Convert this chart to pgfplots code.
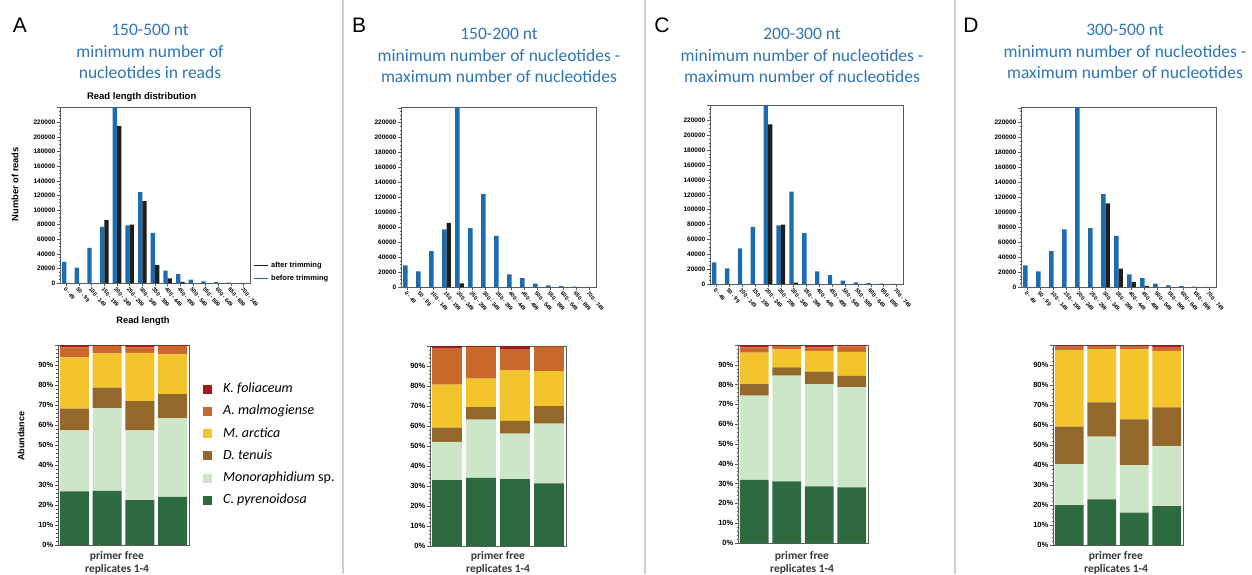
\documentclass[border=0pt]{standalone}
\usepackage{pgfplots}
\usepackage{pgfplotstable}
\pgfplotsset{compat=1.18}
\usepackage{fontspec}
\setmainfont{Liberation Sans}
\newfontfamily\carlito{Carlito}

\definecolor{tblue}{RGB}{46,117,182}
\definecolor{hblue}{RGB}{30,108,176}
\definecolor{hblack}{RGB}{30,30,30}
\definecolor{cC}{RGB}{45,106,63}
\definecolor{cM}{RGB}{205,230,200}
\definecolor{cD}{RGB}{147,104,42}
\definecolor{cMa}{RGB}{244,196,44}
\definecolor{cA}{RGB}{200,104,42}
\definecolor{cK}{RGB}{160,28,28}
\definecolor{sepc}{RGB}{208,208,208}
\definecolor{framec}{RGB}{90,90,90}
\definecolor{txtc}{RGB}{55,55,55}

\pgfplotstableread{
r C M D Ma A K
1 26.8 30.5 10.9 25.6 5.0 1.2
2 27.1 41.4 10.2 17.1 3.7 0.5
3 22.5 34.8 14.6 24.2 2.7 1.2
4 24.1 39.4 11.9 19.9 4.2 0.5
}\stackA
\pgfplotstableread{
r C M D Ma A K
1 32.9 19.2 7.1 21.5 18.0 1.3
2 34.1 29.1 6.3 14.2 15.8 0.5
3 33.4 22.8 6.4 25.3 10.3 1.8
4 31.3 29.9 8.7 17.6 12.2 0.3
}\stackB
\pgfplotstableread{
r C M D Ma A K
1 31.9 42.6 5.8 15.8 2.7 1.2
2 31.1 53.4 4.2 9.1 1.7 0.5
3 28.6 51.7 6.3 10.5 1.7 1.2
4 28.1 50.6 5.7 12.1 2.8 0.7
}\stackC
\pgfplotstableread{
r C M D Ma A K
1 20.0 20.5 18.7 38.3 1.7 0.8
2 22.8 31.4 17.1 26.7 1.5 0.5
3 16.2 23.8 22.8 35.0 1.4 0.8
4 19.5 30.0 19.3 28.3 1.6 1.2
}\stackD

\pgfplotstableread{
x before
0 29000
1 21000
2 48000
3 77000
4 260000
5 79000
6 124500
7 68500
8 17000
9 12000
10 4600
11 2200
12 1200
13 500
14 200
}\histBefore

\pgfplotsset{
  histo/.style={
    scale only axis, anchor=south west, enlargelimits=false,
    ybar, bar width=0.34,
    ymin=0, ymax=241000, xmin=-0.5, xmax=14.5,
    scaled y ticks=false,
    ytick={0,20000,40000,60000,80000,100000,120000,140000,160000,180000,200000,220000,240000},
    yticklabels={0,20000,40000,60000,80000,100000,120000,140000,160000,180000,200000,220000,{}},
    minor y tick num=3,
    yticklabel style={font=\fontsize{6.5}{7}\selectfont\bfseries, inner sep=1.5pt},
    xtick={0,...,14},
    xticklabels={0 - 49,50 - 99,100 - 149,150 - 199,200 - 249,250 - 299,300 - 349,350 - 399,400 - 449,450 - 499,500 - 549,550 - 599,600 - 649,650 - 699,700 - 749},
    xticklabel style={rotate=-50, anchor=north west, font=\fontsize{5.5}{6}\selectfont\bfseries, inner sep=0.5pt},
    tick align=outside, xtick pos=bottom, ytick pos=left,
    major tick length=3pt, minor tick length=1.5pt,
    axis line style={framec, line width=0.8pt},
    every tick/.style={framec, line width=0.5pt},
    legend image code/.code={\draw[##1] (0pt,0pt) -- (14pt,0pt);},
  },
  stk/.style={
    scale only axis, anchor=south west, enlargelimits=false,
    ybar stacked, bar width=0.88,
    xmin=0.5, xmax=4.5, ymin=0, ymax=100,
    scaled y ticks=false,
    xtick=\empty,
    ytick={0,10,...,100},
    yticklabels={0\%,10\%,20\%,30\%,40\%,50\%,60\%,70\%,80\%,90\%,{}},
    minor y tick num=4,
    yticklabel style={font=\fontsize{7.5}{8}\selectfont\bfseries, inner sep=1.5pt},
    tick align=outside, ytick pos=left,
    major tick length=3pt, minor tick length=1.5pt,
    axis line style={framec, line width=0.8pt},
    every tick/.style={framec, line width=0.5pt},
    legend image code/.code={\fill[##1] (0pt,-4.5pt) rectangle (9pt,4.5pt);},
  },
}

\newcommand{\tl}[3]{\node[anchor=base, text=tblue, font=\carlito\fontsize{17.5}{21}\selectfont, inner sep=0pt] at (#1pt,-#2pt) {#3};}
\newcommand{\pf}[1]{%
  \node[anchor=base, text=txtc, font=\carlito\bfseries\fontsize{11.5}{12}\selectfont, inner sep=0pt] at (#1pt,-559pt) {primer free};
  \node[anchor=base, text=txtc, font=\carlito\bfseries\fontsize{11.5}{12}\selectfont, inner sep=0pt] at (#1pt,-572pt) {replicates 1-4};}
\newcommand{\stackplots}[1]{%
  \addplot[fill=cC, draw=none] table[x=r, y=C] {#1};
  \addplot[fill=cM, draw=none] table[x=r, y=M] {#1};
  \addplot[fill=cD, draw=none] table[x=r, y=D] {#1};
  \addplot[fill=cMa, draw=none] table[x=r, y=Ma] {#1};
  \addplot[fill=cA, draw=none] table[x=r, y=A] {#1};
  \addplot[fill=cK, draw=none] table[x=r, y=K] {#1};}

\begin{document}
\begin{tikzpicture}
\useasboundingbox (0,0) rectangle (1252pt,-574pt);
\fill[white] (0,0) rectangle (1252pt,-574pt);
\foreach \xx in {343,645,955} {\draw[sepc, line width=2pt] (\xx pt,0pt) -- (\xx pt,-574pt);}

% panel letters
\node[anchor=base, font=\fontsize{21}{21}\selectfont, inner sep=0pt] at (20pt,-32pt) {A};
\node[anchor=base, font=\fontsize{21}{21}\selectfont, inner sep=0pt] at (359pt,-32pt) {B};
\node[anchor=base, font=\fontsize{21}{21}\selectfont, inner sep=0pt] at (662pt,-32pt) {C};
\node[anchor=base, font=\fontsize{21}{21}\selectfont, inner sep=0pt] at (971pt,-32pt) {D};

% titles
\tl{150}{35}{150-500 nt}
\tl{150}{57}{minimum number of}
\tl{150}{78}{nucleotides in reads}
\tl{499}{39}{150-200 nt}
\tl{499}{61}{minimum number of nucleotides -}
\tl{499}{82}{maximum number of nucleotides}
\tl{802}{39}{200-300 nt}
\tl{802}{61}{minimum number of nucleotides -}
\tl{802}{82}{maximum number of nucleotides}
\tl{1125}{35}{300-500 nt}
\tl{1125}{57}{minimum number of nucleotides -}
\tl{1125}{78}{maximum number of nucleotides}

% ---------- histograms ----------
\begin{axis}[histo, at={(60pt,-283pt)}, width=190pt, height=176pt,
  title={Read length distribution},
  title style={at={(axis description cs:0.43,1.057)}, anchor=center, yshift=-6pt, font=\fontsize{9.5}{10}\selectfont\bfseries},
  ylabel={Number of reads},
  ylabel style={at={(axis description cs:-0.237,0.562)}, anchor=center, font=\fontsize{9.3}{10}\selectfont\bfseries},
  xlabel={Read length},
  xlabel style={at={(axis description cs:0.437,-0.216)}, anchor=center, font=\fontsize{9.3}{10}\selectfont\bfseries},
  legend cell align=left,
  legend style={at={(axis description cs:1.016,0.125)}, anchor=north west, draw=none, fill=none, inner sep=0pt,
    font=\fontsize{7.5}{8}\selectfont\bfseries, row sep=5pt,
    nodes={inner sep=0pt, text height=6pt, text depth=2pt},
    /tikz/every odd column/.append style={column sep=3pt}},
]
\addplot[fill=hblue, draw=none, bar shift=-0.17, forget plot] table[x=x, y=before] {\histBefore};
\addplot[fill=hblack, draw=none, bar shift=0.17, forget plot] coordinates {(3,86000)(4,215000)(5,80000)(6,112000)(7,24500)(8,6500)(9,1500)};
\addlegendimage{hblack, line width=1pt}
\addlegendentry{after trimming}
\addlegendimage{hblue, line width=1pt}
\addlegendentry{before trimming}
\end{axis}

\begin{axis}[histo, at={(401pt,-287pt)}, width=195pt, height=180pt]
\addplot[fill=hblue, draw=none, bar shift=-0.17] table[x=x, y=before] {\histBefore};
\addplot[fill=hblack, draw=none, bar shift=0.17] coordinates {(3,86000)(4,5000)};
\end{axis}

\begin{axis}[histo, at={(710pt,-284pt)}, width=193pt, height=179pt]
\addplot[fill=hblue, draw=none, bar shift=-0.17] table[x=x, y=before] {\histBefore};
\addplot[fill=hblack, draw=none, bar shift=0.17] coordinates {(4,215000)(5,80000)(6,2000)};
\end{axis}

\begin{axis}[histo, at={(1021pt,-287pt)}, width=195pt, height=180pt]
\addplot[fill=hblue, draw=none, bar shift=-0.17] table[x=x, y=before] {\histBefore};
\addplot[fill=hblack, draw=none, bar shift=0.17] coordinates {(6,112000)(7,24500)(8,6500)(9,1500)};
\end{axis}

% ---------- stacked abundance ----------
\begin{axis}[stk, at={(58pt,-545pt)}, width=131pt, height=200pt,
  ylabel={Abundance},
  ylabel style={at={(axis description cs:-0.282,0.545)}, anchor=center, font=\fontsize{9}{10}\selectfont\bfseries},
  reverse legend,
  legend cell align=left,
  legend style={at={(axis description cs:1.107,0.8125)}, anchor=north west, draw=none, fill=none, inner sep=0pt,
    font=\carlito\fontsize{14}{14}\selectfont, row sep=9.2pt,
    nodes={inner sep=0pt, text height=10pt, text depth=3pt},
    /tikz/every odd column/.append style={column sep=11pt}},
]
\stackplots{\stackA}
\legend{\textit{C. pyrenoidosa},\textit{Monoraphidium} sp.,\textit{D. tenuis},\textit{M. arctica},\textit{A. malmogiense},\textit{K. foliaceum}}
\end{axis}

\begin{axis}[stk, at={(430pt,-546pt)}, width=136pt, height=200pt]
\stackplots{\stackB}
\end{axis}

\begin{axis}[stk, at={(738pt,-543pt)}, width=130pt, height=198pt]
\stackplots{\stackC}
\end{axis}

\begin{axis}[stk, at={(1053pt,-545pt)}, width=130pt, height=200pt]
\stackplots{\stackD}
\end{axis}

\pf{117}
\pf{498}
\pf{802}
\pf{1116}
\end{tikzpicture}
\end{document}
